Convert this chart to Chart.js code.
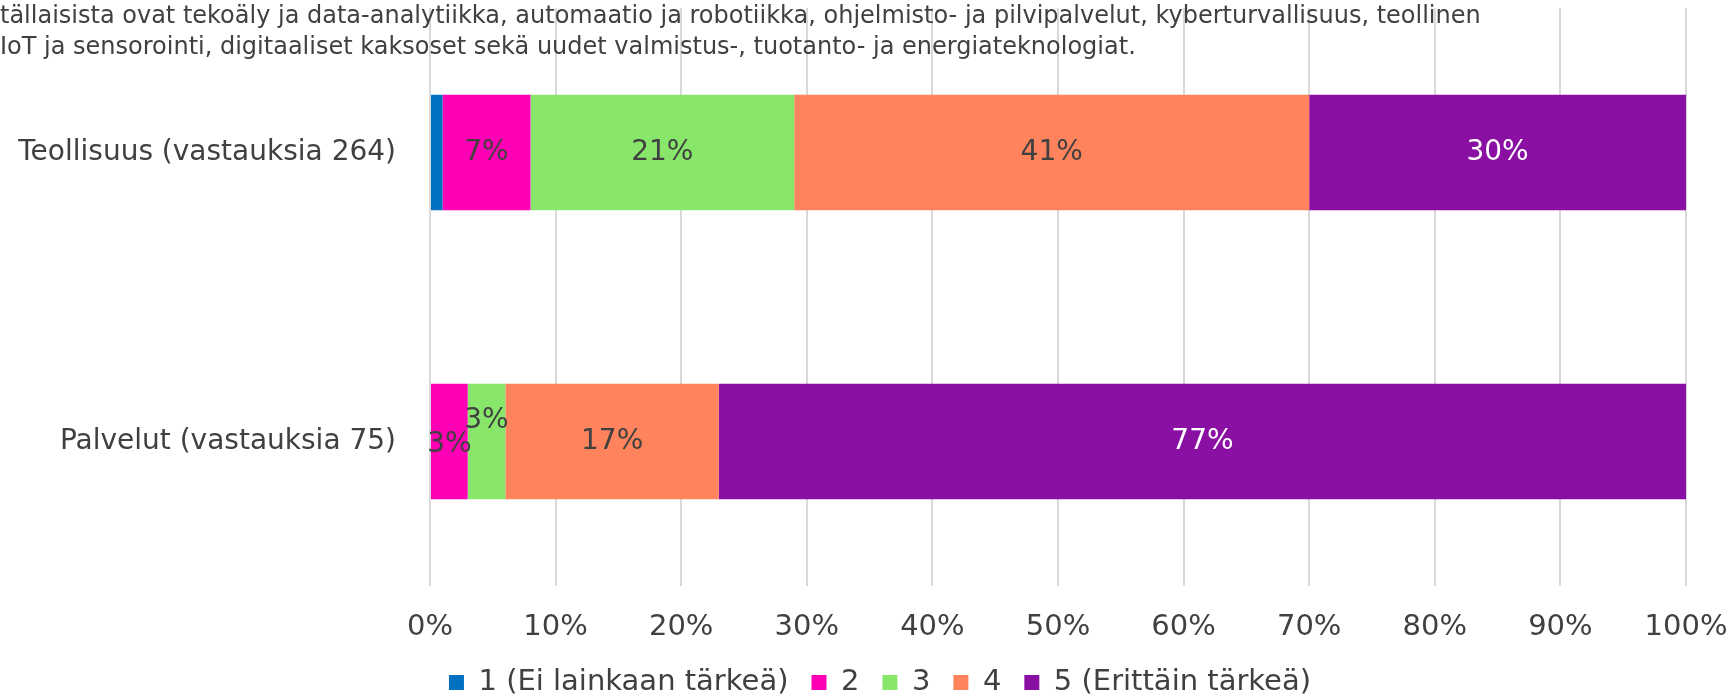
<!DOCTYPE html>
<html lang="fi">
<head>
<meta charset="utf-8">
<title>Teknologioiden tärkeys</title>
<script src="https://cdn.jsdelivr.net/npm/chart.js@4/dist/chart.umd.min.js"></script>
<style>
  html, body { margin: 0; padding: 0; background: #fff; overflow: hidden; }
  .wrap { position: relative; width: 1733px; height: 697px; }
  .otsikko {
    position: absolute; left: 0; top: 0; z-index: 2;
    font-family: 'DejaVu Sans', Verdana, sans-serif; font-size: 24px;
    line-height: 31px; color: #404040; white-space: nowrap; pointer-events: none;
  }
  canvas { display: block; }
</style>
</head>
<body>
<div class="wrap">
  <div class="otsikko">tällaisista ovat tekoäly ja data-analytiikka, automaatio ja robotiikka, ohjelmisto- ja pilvipalvelut, kyberturvallisuus, teollinen<br>IoT ja sensorointi, digitaaliset kaksoset sekä uudet valmistus-, tuotanto- ja energiateknologiat.</div>
  <canvas id="chart-tarkeys" width="1733" height="697"></canvas>
</div>
<script>
/* Data — osuudet prosentteina */
const ryhmat = ['Teollisuus (vastauksia 264)', 'Palvelut (vastauksia 75)'];
const sarjat = ['1 (Ei lainkaan tärkeä)', '2', '3', '4', '5 (Erittäin tärkeä)'];
const arvo1 = [1, 0];
const arvo2 = [7, 3];
const arvo3 = [21, 3];
const arvo4 = [41, 17];
const arvo5 = [30, 77];
const xTicks = [0, 10, 20, 30, 40, 50, 60, 70, 80, 90, 100];

const varit = ['#0070c0', '#ff00b4', '#88e76a', '#ff835c', '#8a0fa3'];
const tekstiVari = '#404040';
const fontti = "'DejaVu Sans', Verdana, sans-serif";

/* Arvot palkkien päälle (Excelin tapaan, pienet piiloon) */
const arvoTekstit = {
  id: 'arvoTekstit',
  afterDatasetsDraw(chart, args, opts) {
    const ctx = chart.ctx;
    ctx.save();
    ctx.font = `28px ${fontti}`;
    ctx.textAlign = 'center';
    ctx.textBaseline = 'middle';
    chart.data.datasets.forEach((ds, di) => {
      const meta = chart.getDatasetMeta(di);
      meta.data.forEach((bar, i) => {
        const v = ds.data[i];
        if (v < 2) return;
        const siirto = (opts.siirrot[`${di}-${i}`] || 0);
        ctx.fillStyle = di === 4 ? '#ffffff' : tekstiVari;
        ctx.fillText(`${v}%`, (bar.x + bar.base) / 2, bar.y + siirto);
      });
    });
    ctx.restore();
  },
};

/* Selite hieman oikealle kuten alkuperäisessä */
const seliteSiirto = {
  id: 'seliteSiirto',
  afterLayout(chart, args, opts) {
    chart.legend.left += opts.dx;
    chart.legend.right += opts.dx;
  },
};

new Chart(document.getElementById('chart-tarkeys'), {
  type: 'bar',
  data: {
    labels: ryhmat,
    datasets: [arvo1, arvo2, arvo3, arvo4, arvo5].map((d, i) => ({
      label: sarjat[i], data: d, backgroundColor: varit[i], borderWidth: 0,
      categoryPercentage: 1, barPercentage: 0.4,
    })),
  },
  options: {
    indexAxis: 'y',
    responsive: false,
    animation: false,
    layout: { padding: { left: 10, right: 47, top: 8, bottom: -10 } },
    scales: {
      x: {
        stacked: true, min: 0, max: 100,
        afterBuildTicks: ax => { ax.ticks = xTicks.map(v => ({ value: v })); },
        afterFit: s => { s.height = 59; s.paddingLeft = 0; s.paddingRight = 0; },
        ticks: { callback: v => `${v}%`, color: tekstiVari, font: { family: fontti, size: 29 }, padding: 24, maxRotation: 0 },
        grid: { color: '#d9d9d9', lineWidth: 2, drawTicks: false },
        border: { display: false },
      },
      y: {
        stacked: true,
        afterFit: s => { s.width = 420; s.paddingTop = 0; s.paddingBottom = 0; },
        ticks: { color: tekstiVari, font: { family: fontti, size: 28 }, padding: 34 },
        grid: { display: false, drawTicks: false },
        border: { display: false },
      },
    },
    plugins: {
      legend: {
        position: 'bottom',
        labels: { color: tekstiVari, font: { family: fontti, size: 29 }, boxWidth: 15, boxHeight: 15, padding: 23 },
      },
      tooltip: { enabled: false },
      arvoTekstit: { siirrot: { '1-1': 3, '2-1': -21 } },
      seliteSiirto: { dx: 32 },
    },
  },
  plugins: [arvoTekstit, seliteSiirto],
});
</script>
</body>
</html>
